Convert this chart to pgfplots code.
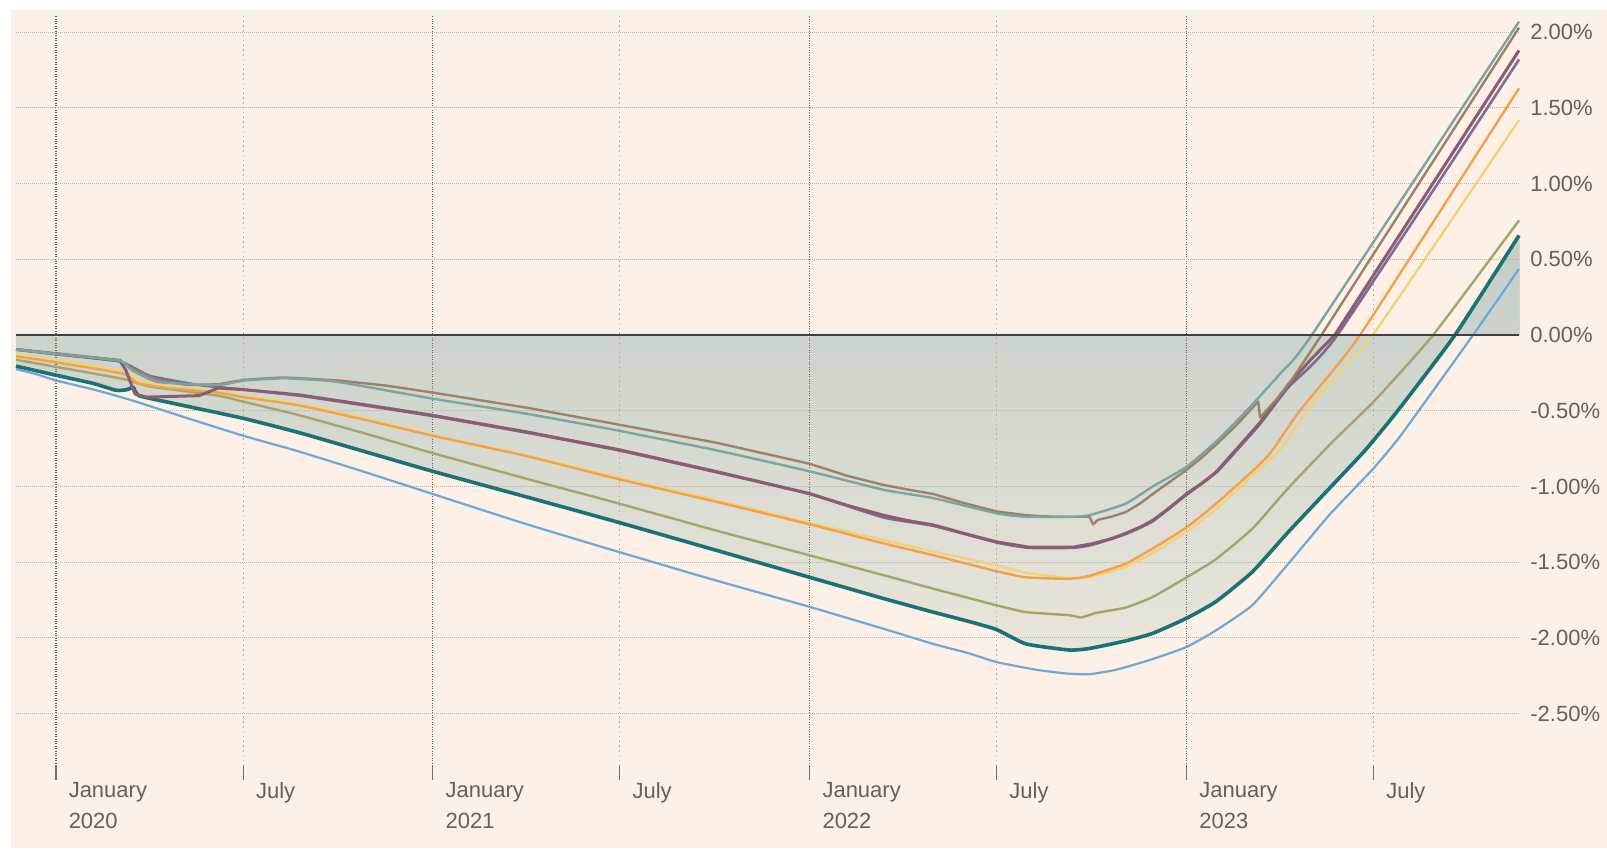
\documentclass[border=0pt]{standalone}
\usepackage{pgfplots}
\pgfplotsset{compat=1.18}
\usepgfplotslibrary{fillbetween}
\usepackage{fontspec}
\setmainfont{Liberation Sans}
\definecolor{bgpeach}{HTML}{FDF0E6}
\definecolor{labelgray}{HTML}{66605C}
\definecolor{tickgray}{HTML}{77716C}
\definecolor{jangrid}{HTML}{6A6560}
\definecolor{julgrid}{HTML}{B8B1AA}
\definecolor{hgrid}{HTML}{BAB3AC}
\definecolor{zeroline}{HTML}{404040}
\definecolor{fillTop}{HTML}{C2CEC7}
\definecolor{fillBot}{HTML}{EAE5DB}
\definecolor{cteal}{HTML}{1B7272}
\definecolor{cblue}{HTML}{6DA8D8}
\definecolor{colive}{HTML}{A7A36D}
\definecolor{cyellow}{HTML}{F2D27A}
\definecolor{corange}{HTML}{F2A24A}
\definecolor{cpurple}{HTML}{7A6E95}
\definecolor{cmauve}{HTML}{8C5C72}
\definecolor{cbrown}{HTML}{9B8268}
\definecolor{cgteal}{HTML}{7BA4A2}
\begin{document}
\begin{tikzpicture}
\begin{axis}[
  set layers,
  fill between/on layer=axis background,
  scale only axis, width=751.5pt, height=375.5pt,
  xmin=2019.894, xmax=2023.882, ymin=-2.846, ymax=2.114,
  clip=false,
  axis x line*=bottom, axis y line*=right,
  axis line style={draw=none},
  tick align=outside,
  major tick length=7pt,
  xtick={2020,2021,2022,2023},
  xticklabels={{January\\2020},{January\\2021},{January\\2022},{January\\2023}},
  extra x ticks={2020.497,2021.496,2022.496,2023.496},
  extra x tick labels={July,July,July,July},
  extra x tick style={x grid style={color=julgrid, line width=0.5pt, dash pattern=on 0.8pt off 1.6pt}},
  xmajorgrids, ymajorgrids,
  x grid style={color=jangrid, line width=0.6pt, dash pattern=on 0.5pt off 0.7pt},
  y grid style={color=hgrid, line width=0.5pt, dash pattern=on 0.5pt off 0.5pt},
  xtick style={color=tickgray, line width=0.6pt},
  ytick style={draw=none},
  ytick={-2.5,-2,-1.5,-1,-0.5,0,0.5,1,1.5,2},
  yticklabels={-2.50\%,-2.00\%,-1.50\%,-1.00\%,-0.50\%,0.00\%,0.50\%,1.00\%,1.50\%,2.00\%},
  tick label style={font=\fontsize{11}{15.65}\selectfont, text=labelgray},
  xticklabel style={anchor=north west, align=left, inner sep=0pt, xshift=6.2pt, yshift=-1pt},
  yticklabel style={anchor=west, inner sep=0pt, xshift=-1.5pt},
  every axis plot/.append style={line join=round},
]
\begin{pgfonlayer}{axis background}
\fill[white] (rel axis cs:-0.010645,-0.12783) rectangle (rel axis cs:1.05855,1.01997);
\fill[bgpeach] (rel axis cs:-0.003327,-0.10919) rectangle (rel axis cs:1.05855,1.00666);
\end{pgfonlayer}

\addplot[draw=none, name path=zero, forget plot] coordinates {(2019.894,0) (2023.882,0)};

% blue
\addplot[cblue, line width=1.1pt, smooth, tension=0.3] table {
2019.894 -0.225
2019.95 -0.26
2020.0 -0.30
2020.1 -0.36
2020.2 -0.43
2020.35 -0.55
2020.497 -0.665
2020.646 -0.77
2020.82 -0.905
2021.0 -1.05
2021.25 -1.25
2021.49 -1.43
2021.75 -1.62
2022.0 -1.795
2022.196 -1.94
2022.328 -2.04
2022.42 -2.10
2022.496 -2.16
2022.6 -2.21
2022.68 -2.235
2022.742 -2.24
2022.814 -2.21
2022.91 -2.14
2023.0 -2.06
2023.078 -1.95
2023.174 -1.785
2023.27 -1.51
2023.378 -1.19
2023.496 -0.88
2023.56 -0.69
2023.61 -0.52
2023.76 0.0
2023.882 0.437
};

% olive
\addplot[colive, line width=1.2pt, smooth, tension=0.3] table {
2019.894 -0.163
2020.0 -0.21
2020.178 -0.29
2020.25 -0.34
2020.43 -0.40
2020.497 -0.44
2020.646 -0.53
2020.82 -0.65
2021.0 -0.78
2021.25 -0.95
2021.49 -1.11
2021.75 -1.29
2022.0 -1.455
2022.196 -1.586
2022.328 -1.675
2022.496 -1.785
2022.574 -1.83
2022.688 -1.85
2022.72 -1.865
2022.76 -1.835
2022.838 -1.80
2022.91 -1.73
2023.0 -1.60
2023.078 -1.48
2023.174 -1.28
2023.27 -1.01
2023.389 -0.70
2023.5 -0.43
2023.654 0.0
2023.882 0.757
};

% teal
\addplot[cteal, line width=1.8pt, name path=tealp, smooth, tension=0.3] table {
2019.894 -0.205
2020.0 -0.265
2020.1 -0.32
2020.16 -0.365
2020.19 -0.36
2020.205 -0.345
2020.22 -0.40
2020.3 -0.445
2020.497 -0.55
2020.646 -0.645
2020.82 -0.77
2021.0 -0.90
2021.25 -1.07
2021.49 -1.235
2021.75 -1.42
2022.0 -1.60
2022.196 -1.74
2022.328 -1.83
2022.42 -1.89
2022.496 -1.945
2022.574 -2.04
2022.688 -2.08
2022.742 -2.07
2022.838 -2.02
2022.91 -1.97
2023.0 -1.87
2023.078 -1.76
2023.174 -1.565
2023.27 -1.30
2023.378 -1.015
2023.474 -0.76
2023.56 -0.50
2023.712 0.0
2023.882 0.658
};

\addplot[top color=fillTop, bottom color=fillBot, draw=none] fill between[of=tealp and zero];

% yellow
\addplot[cyellow, line width=1.2pt, smooth, tension=0.3] table {
2019.894 -0.125
2020.0 -0.165
2020.178 -0.24
2020.22 -0.30
2020.3 -0.34
2020.43 -0.37
2020.497 -0.40
2020.646 -0.455
2020.82 -0.55
2021.0 -0.66
2021.25 -0.795
2021.49 -0.94
2021.75 -1.09
2022.0 -1.24
2022.196 -1.354
2022.328 -1.43
2022.496 -1.52
2022.574 -1.57
2022.688 -1.605
2022.742 -1.60
2022.838 -1.53
2022.91 -1.44
2023.0 -1.30
2023.078 -1.15
2023.174 -0.93
2023.25 -0.75
2023.35 -0.40
2023.494 0.0
2023.882 1.42
};

% orange
\addplot[corange, line width=1.2pt, smooth, tension=0.3] table {
2019.894 -0.14
2020.0 -0.18
2020.178 -0.255
2020.22 -0.32
2020.3 -0.35
2020.43 -0.38
2020.497 -0.41
2020.646 -0.465
2020.82 -0.56
2021.0 -0.665
2021.25 -0.80
2021.49 -0.95
2021.75 -1.10
2022.0 -1.25
2022.196 -1.376
2022.328 -1.454
2022.496 -1.56
2022.574 -1.60
2022.688 -1.61
2022.742 -1.59
2022.838 -1.51
2022.91 -1.41
2023.0 -1.27
2023.078 -1.114
2023.174 -0.90
2023.225 -0.77
2023.30 -0.50
2023.46 0.0
2023.882 1.63
};

% slate purple
\addplot[cpurple, line width=1.3pt, smooth, tension=0.3] table {
2019.894 -0.095
2020.0 -0.125
2020.17 -0.175
2020.25 -0.27
2020.38 -0.33
2020.497 -0.36
2020.646 -0.40
2020.82 -0.465
2021.0 -0.535
2021.25 -0.645
2021.49 -0.76
2021.75 -0.905
2022.0 -1.05
2022.196 -1.205
2022.328 -1.26
2022.496 -1.37
2022.58 -1.405
2022.70 -1.405
2022.75 -1.385
2022.838 -1.315
2022.91 -1.23
2023.0 -1.055
2023.078 -0.91
2023.128 -0.775
2023.194 -0.59
2023.27 -0.345
2023.40 0.0
2023.882 1.82
};

% mauve
\addplot[cmauve, line width=1.5pt] table {
2019.894 -0.095
2020.0 -0.125
2020.17 -0.17
2020.185 -0.23
2020.21 -0.39
2020.24 -0.41
2020.38 -0.40
2020.43 -0.35
2020.497 -0.36
2020.646 -0.395
2020.82 -0.46
2021.0 -0.53
2021.25 -0.64
2021.49 -0.755
2021.75 -0.90
2022.0 -1.047
2022.1 -1.125
2022.196 -1.19
2022.26 -1.225
2022.328 -1.254
2022.41 -1.31
2022.496 -1.366
2022.58 -1.40
2022.70 -1.40
2022.75 -1.378
2022.80 -1.345
2022.838 -1.31
2022.875 -1.27
2022.91 -1.224
2022.955 -1.14
2023.0 -1.048
2023.04 -0.98
2023.078 -0.905
2023.128 -0.766
2023.194 -0.58
2023.27 -0.33
2023.33 -0.16
2023.393 0.0
2023.882 1.88
};

% brown
\addplot[cbrown, line width=1.2pt] table {
2019.894 -0.095
2020.0 -0.12
2020.17 -0.165
2020.2 -0.22
2020.27 -0.30
2020.35 -0.33
2020.43 -0.325
2020.5 -0.295
2020.6 -0.28
2020.646 -0.285
2020.75 -0.30
2020.88 -0.335
2021.0 -0.38
2021.25 -0.48
2021.49 -0.59
2021.75 -0.71
2022.0 -0.85
2022.1 -0.93
2022.196 -0.99
2022.26 -1.02
2022.328 -1.05
2022.41 -1.11
2022.496 -1.165
2022.574 -1.19
2022.65 -1.20
2022.742 -1.20
2022.752 -1.25
2022.765 -1.22
2022.80 -1.20
2022.838 -1.17
2022.875 -1.115
2022.91 -1.05
2022.955 -0.97
2023.0 -0.89
2023.04 -0.81
2023.08 -0.72
2023.13 -0.60
2023.19 -0.44
2023.195 -0.545
2023.24 -0.42
2023.283 -0.28
2023.35 -0.03
2023.882 2.03
};

% grey teal
\addplot[cgteal, line width=1.2pt, smooth, tension=0.3] table {
2019.894 -0.095
2020.0 -0.125
2020.17 -0.17
2020.2 -0.23
2020.27 -0.31
2020.43 -0.33
2020.5 -0.30
2020.6 -0.285
2020.646 -0.29
2020.75 -0.31
2021.0 -0.42
2021.25 -0.52
2021.49 -0.63
2021.75 -0.76
2022.0 -0.90
2022.196 -1.022
2022.328 -1.077
2022.496 -1.177
2022.574 -1.20
2022.70 -1.20
2022.742 -1.19
2022.838 -1.114
2022.91 -1.0
2023.0 -0.87
2023.08 -0.70
2023.159 -0.50
2023.25 -0.25
2023.332 0.0
2023.882 2.07
};

\addplot[zeroline, line width=1pt] coordinates {(2019.894,0) (2023.882,0)};
\end{axis}
\end{tikzpicture}
\end{document}
